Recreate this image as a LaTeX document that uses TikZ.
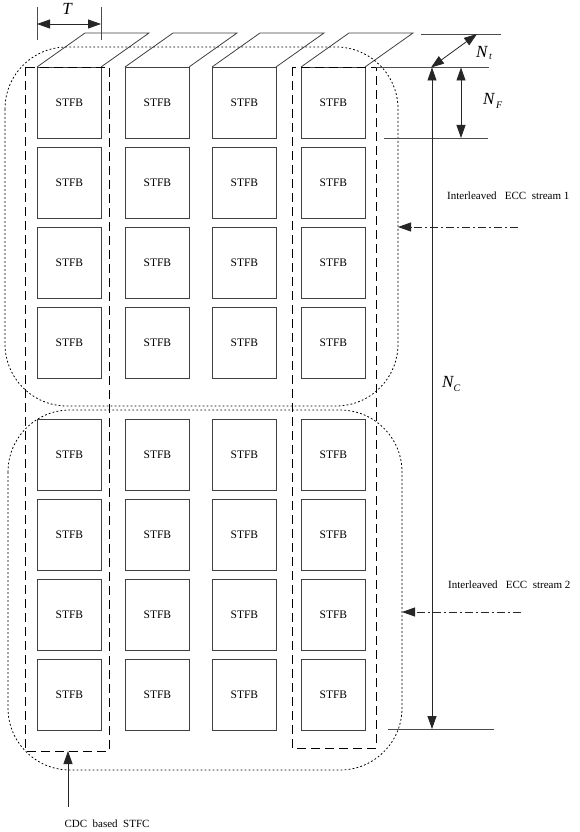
\documentclass[tikz,border=0pt]{standalone}
\usepackage{fontspec}
\setmainfont{Liberation Serif}
\usetikzlibrary{arrows.meta}
\begin{document}
\begin{tikzpicture}[x=1pt,y=-1pt,
  ln/.style={draw=black!75,line width=0.8pt},
  stfb/.style={ln,minimum width=64pt,minimum height=71pt,inner sep=0pt,anchor=north west,font=\fontsize{11.5}{13}\selectfont},
  colbox/.style={draw=black,line width=0.8pt,dash pattern=on 9pt off 5pt},
  grp/.style={draw=black,line width=0.8pt,dash pattern=on 1.8pt off 2.2pt,rounded corners=62pt},
  dimarr/.style={draw=black!85,line width=0.8pt,{Triangle[length=13pt,width=9pt]}-{Triangle[length=13pt,width=9pt]}},
  onearr/.style={draw=black!85,line width=0.8pt,-{Triangle[length=13pt,width=9pt]}},
  dasharr/.style={draw=black!85,line width=0.8pt,dash pattern=on 8pt off 3pt on 2pt off 3pt,-{Triangle[length=13pt,width=9pt]}},
  ext/.style={draw=black!70,line width=0.8pt},
  lbl/.style={font=\fontsize{11}{12}\selectfont,inner sep=0pt},
  dimlbl/.style={font=\fontsize{17}{19}\selectfont\itshape,inner sep=0pt}
]
\useasboundingbox (0,0) rectangle (580,832);
% boxes
\foreach \c/\L in {1/37,2/125,3/212,4/301}{
  \foreach \r/\T in {1/67,2/147,3/227,4/307,5/419,6/499,7/579,8/659}{
    \node[stfb] (b\r\c) at (\L,\T) {STFB};
  }
  \draw[ln] (\L,67) -- (\L+48,33) -- (\L+112,33) -- (\L+64,67);
}
% column dashed frames
\draw[colbox] (25,67) rectangle (109,751);
\draw[colbox] (292,67) rectangle (376,748);
% group dotted frames
\draw[grp] (5,47) rectangle (398,406);
\draw[grp] (8,410) rectangle (402,770);
% T dimension
\coordinate (t1a) at (37,7); \coordinate (t1b) at (37,40);
\coordinate (t2a) at (101,7); \coordinate (t2b) at (101,40);
\draw[ext] (t1a) -- (t1b);
\draw[ext] (t2a) -- (t2b);
\coordinate (tl) at (37,24); \coordinate (tr) at (101,24);
\draw[dimarr] (tl) -- (tr);
\node[dimlbl] (Tlbl) at (67,9) {T};
% right dimension extension lines
\coordinate (e1a) at (421,34); \coordinate (e1b) at (501,34);
\coordinate (e2a) at (376,67.5); \coordinate (e2b) at (489,67.5);
\coordinate (e3a) at (384,138); \coordinate (e3b) at (488,138);
\coordinate (e4a) at (388,729); \coordinate (e4b) at (494,729);
\draw[ext] (e1a) -- (e1b);
\draw[ext] (e2a) -- (e2b);
\draw[ext] (e3a) -- (e3b);
\draw[ext] (e4a) -- (e4b);
% N_t
\coordinate (nt1) at (431,67.5); \coordinate (nt2) at (477,34);
\draw[dimarr] (nt1) -- (nt2);
\node[dimlbl,anchor=west] (Ntl) at (476,53) {N\raisebox{-0.35ex}{\fontsize{10}{11}\selectfont\,t}};
% N_F
\coordinate (nf1) at (461,67.5); \coordinate (nf2) at (461,138);
\draw[dimarr] (nf1) -- (nf2);
\node[dimlbl,anchor=west] (Nfl) at (483,101) {N\raisebox{-0.45ex}{\fontsize{10}{11}\selectfont\,F}};
% N_C
\coordinate (nc1) at (432,67.5); \coordinate (nc2) at (432,729);
\draw[dimarr] (nc1) -- (nc2);
\node[dimlbl,anchor=west] (Ncl) at (442,384) {N\raisebox{-0.45ex}{\fontsize{10}{11}\selectfont C}};
% ECC streams
\node[lbl,anchor=west] (s1) at (447,196) {Interleaved\ \ \ ECC\ \ stream 1};
\coordinate (s1a) at (518,227); \coordinate (s1b) at (398,227);
\draw[dasharr] (s1a) -- (s1b);
\node[lbl,anchor=west] (s2) at (448,585) {Interleaved\ \ \ ECC\ \ stream 2};
\coordinate (s2a) at (521,612); \coordinate (s2b) at (402,612);
\draw[dasharr] (s2a) -- (s2b);
% CDC
\node[lbl] (cdc) at (107,824) {CDC\ \ based\ \ STFC};
\coordinate (ca) at (68,807); \coordinate (cb) at (68,751);
\draw[onearr] (ca) -- (cb);
\end{tikzpicture}
\end{document}
